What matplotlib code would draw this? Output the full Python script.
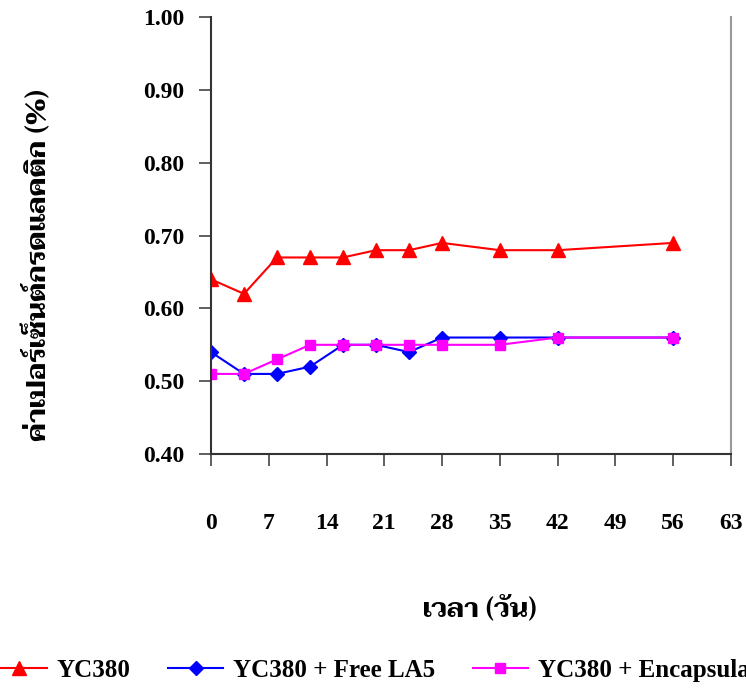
import matplotlib
matplotlib.use("Agg")
import matplotlib.pyplot as plt

days = [0, 4, 8, 12, 16, 20, 24, 28, 35, 42, 56]
yc380 = [0.64, 0.62, 0.67, 0.67, 0.67, 0.68, 0.68, 0.69, 0.68, 0.68, 0.69]
free_la5 = [0.54, 0.51, 0.51, 0.52, 0.55, 0.55, 0.54, 0.56, 0.56, 0.56, 0.56]
encap = [0.51, 0.51, 0.53, 0.55, 0.55, 0.55, 0.55, 0.55, 0.55, 0.56, 0.56]
labels = ["YC380", "YC380 + Free LA5", "YC380 + Encapsula"]
xticks = [0, 7, 14, 21, 28, 35, 42, 49, 56, 63]
yticks = [0.40, 0.50, 0.60, 0.70, 0.80, 0.90, 1.00]

thai = ['Norasi', 'Kinnari', 'Taviraj']
plt.rcParams['font.family'] = ['Liberation Serif'] + thai
plt.rcParams['font.weight'] = 'bold'

fig = plt.figure(figsize=(7.46, 6.91), dpi=100)
ax = fig.add_axes([0.2828, 0.343, 0.697, 0.632])

ax.plot(days, yc380, color='#ff0000', marker='^', markersize=10, lw=1.5, label=labels[0])
ax.plot(days, free_la5, color='#0000ff', marker='D', markersize=7, lw=1.5, label=labels[1])
ax.plot(days, encap, color='#ff00ff', marker='s', markersize=7.5, lw=1.5, label=labels[2])

ax.set_xlim(0, 63)
ax.set_ylim(0.40, 1.00)
ax.set_xticks(xticks)
ax.set_yticks(yticks)
ax.set_yticklabels(["%.2f" % v for v in yticks])
ax.tick_params(axis='x', direction='out', length=8.5, width=1.2, color='#444444',
               pad=34, labelsize=17)
ax.tick_params(axis='y', direction='out', length=8.5, width=1.2, color='#444444',
               pad=11, labelsize=17)
for lab in ax.get_xticklabels() + ax.get_yticklabels():
    lab.set_fontweight('bold')

ax.spines['top'].set_visible(False)
ax.spines['left'].set_color('#333333')
ax.spines['bottom'].set_color('#333333')
ax.spines['left'].set_linewidth(1.5)
ax.spines['bottom'].set_linewidth(1.5)
ax.spines['right'].set_color('#999999')
ax.spines['right'].set_linewidth(1.5)

# axis titles placed in figure coords, as in the original layout
fig.text(0.051, 0.617, "ค่าเปอร์เซ็นต์กรดแลคติก (%)", family=thai, fontsize=19.5,
         fontweight='bold', rotation=90, ha='center', va='center')
fig.text(0.643, 0.119, "เวลา (วัน)", family=thai, fontsize=19,
         fontweight='bold', ha='center', va='center')

fig.legend(loc='center left', bbox_to_anchor=(-0.011, 0.03), ncol=3, frameon=False,
           handlelength=2.2, handletextpad=0.4, columnspacing=1.5,
           borderpad=0, borderaxespad=0, prop={'weight': 'bold', 'size': 18})

fig.savefig("out.png", dpi=100)
